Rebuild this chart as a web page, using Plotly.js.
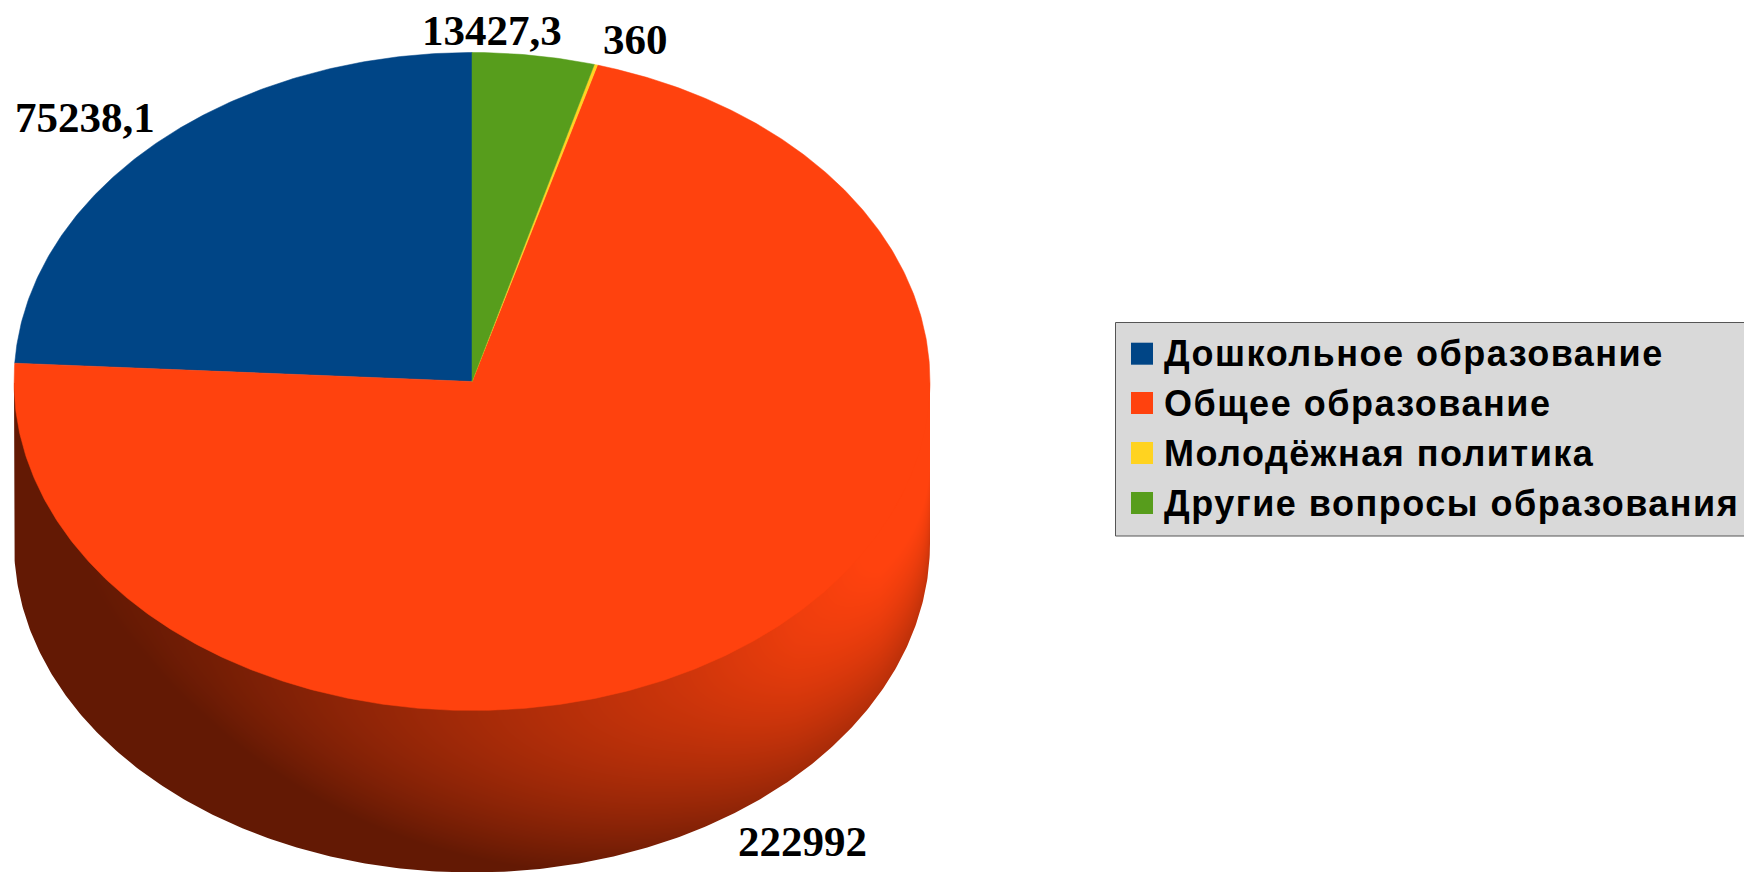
<!DOCTYPE html>
<html><head><meta charset="utf-8">
<script src="https://cdn.plot.ly/plotly-3.0.1.min.js"></script>
<style>html,body{margin:0;padding:0;background:#fff;overflow:hidden}#c{width:1744px;height:872px}</style>
</head><body><div id="c"></div>
<script>
const categories = ["Дошкольное образование","Общее образование","Молодёжная политика","Другие вопросы образования"];
const values = [75238.1,222992,360,13427.3];
const valueLabels = ["75238,1","222992","360","13427,3"];
const colors = ["#004586","#ff420e","#ffd320","#579d1c"];

const W=1744,H=872,CX=472,CY=381.5,RX=458,RY=329,DEPTH=162;
const total = values.reduce((a,b)=>a+b,0);
const rad = d=>d*Math.PI/180;
const px=a=>CX+RX*Math.sin(a), py=(a,d)=>CY-RY*Math.cos(a)+(d||0)*DEPTH;
let start=[],acc=0;
values.forEach(v=>{start.push(acc);acc+=v/total*2*Math.PI;});
const traces=[];

// side wall shading: brightness along the rim by angle, fading with depth
const rimAngle=[90,100,117,135,152,180,204,215,225,238,270];
const rimLight=[1.12,1.1,1.04,0.89,0.69,0.42,0.2,0.11,0.05,0,0];
function rimAt(deg){
  for(let i=1;i<rimAngle.length;i++) if(deg<=rimAngle[i]){
    const f=(deg-rimAngle[i-1])/(rimAngle[i]-rimAngle[i-1]);
    return rimLight[i-1]+(rimLight[i]-rimLight[i-1])*f;
  }
  return 0;
}
const hx=[],hy=[],hz=[];
for(let x=Math.floor(CX-RX)-2;x<=Math.ceil(CX+RX)+2;x++) hx.push(x+0.5);
for(let y=Math.ceil(CY)+1;y<=H+1;y++){
  hy.push(y+0.5);
  hz.push(hx.map(x=>{
    const n=Math.max(-1,Math.min(1,(x-CX)/RX));
    const rim=CY+RY*Math.sqrt(1-n*n);
    const d=Math.max(0,((y+0.5)-rim)/DEPTH);
    const deg=180-Math.asin(n)*180/Math.PI;
    return Math.max(0,Math.min(1,rimAt(deg)-0.5*Math.pow(d,1.8)));
  }));
}
traces.push({type:"heatmap",x:hx,y:hy,z:hz,zmin:0,zmax:1,zsmooth:false,showscale:false,hoverinfo:"skip",
  colorscale:[[0,"#631904"],[1,"#ff420e"]]});
// white cover outside the side wall's lower outline, for a clean edge
const mx=[CX-RX,],my=[CY];
for(let k=0;k<=360;k++){const a=rad(270-k/2);mx.push(px(a));my.push(py(a,1));}
mx.push(CX+RX,CX+RX+8,CX+RX+8,CX-RX-8,CX-RX-8,CX-RX);
my.push(CY,CY,H+3,H+3,CY,CY);
traces.push({type:"scatter",mode:"lines",x:mx,y:my,fill:"toself",fillcolor:"#fff",line:{width:0,color:"#fff"},hoverinfo:"skip",showlegend:false});
// top face: one wedge per category, counter-clockwise from 12 o'clock
values.forEach((v,i)=>{
  const a0=-start[i],a1=-(start[i]+v/total*2*Math.PI);
  const xs=[CX],ys=[CY],n=Math.max(2,Math.ceil(Math.abs(a1-a0)/rad(0.5)));
  for(let k=0;k<=n;k++){const a=a0+(a1-a0)*k/n;xs.push(px(a));ys.push(py(a));}
  xs.push(CX);ys.push(CY);
  traces.push({type:"scatter",mode:"lines",name:categories[i],x:xs,y:ys,fill:"toself",fillcolor:colors[i],line:{color:colors[i],width:0.5},hovertemplate:categories[i]+": "+valueLabels[i]+"<extra></extra>",showlegend:false});
});
const labelPos=[[85,117],[802,841],[635,39],[492,30]];
const annotations=valueLabels.map((t,i)=>({x:labelPos[i][0],y:labelPos[i][1],xref:"x",yref:"y",text:"<b>"+t+"</b>",showarrow:false,xanchor:"center",yanchor:"middle",font:{family:"Liberation Serif",size:43,color:"#000"}}));
const shapes=[{type:"rect",xref:"x",yref:"y",x0:1115.5,x1:1745,y0:322.5,y1:536,fillcolor:"#d9d9d9",line:{color:"#555",width:1},layer:"below"}];
const rowY=[353.7,403,453,503];
categories.forEach((c,i)=>{
  shapes.push({type:"rect",xref:"x",yref:"y",x0:1131,x1:1153,y0:rowY[i]-11,y1:rowY[i]+11,fillcolor:colors[i],line:{width:0},layer:"above"});
  annotations.push({x:1162,y:rowY[i],xref:"x",yref:"y",text:'<span style="letter-spacing:1.5px"><b>'+c+"</b></span>",showarrow:false,xanchor:"left",yanchor:"middle",font:{family:"Liberation Sans",size:36,color:"#000"}});
});
Plotly.newPlot("c",traces,{
  width:W,height:H,margin:{l:0,r:0,t:0,b:0},paper_bgcolor:"#fff",plot_bgcolor:"#fff",showlegend:false,
  xaxis:{range:[0,W],visible:false,fixedrange:true},
  yaxis:{range:[H,0],visible:false,fixedrange:true},
  annotations,shapes,hovermode:"closest"
},{displayModeBar:false,responsive:false});
</script></body></html>
